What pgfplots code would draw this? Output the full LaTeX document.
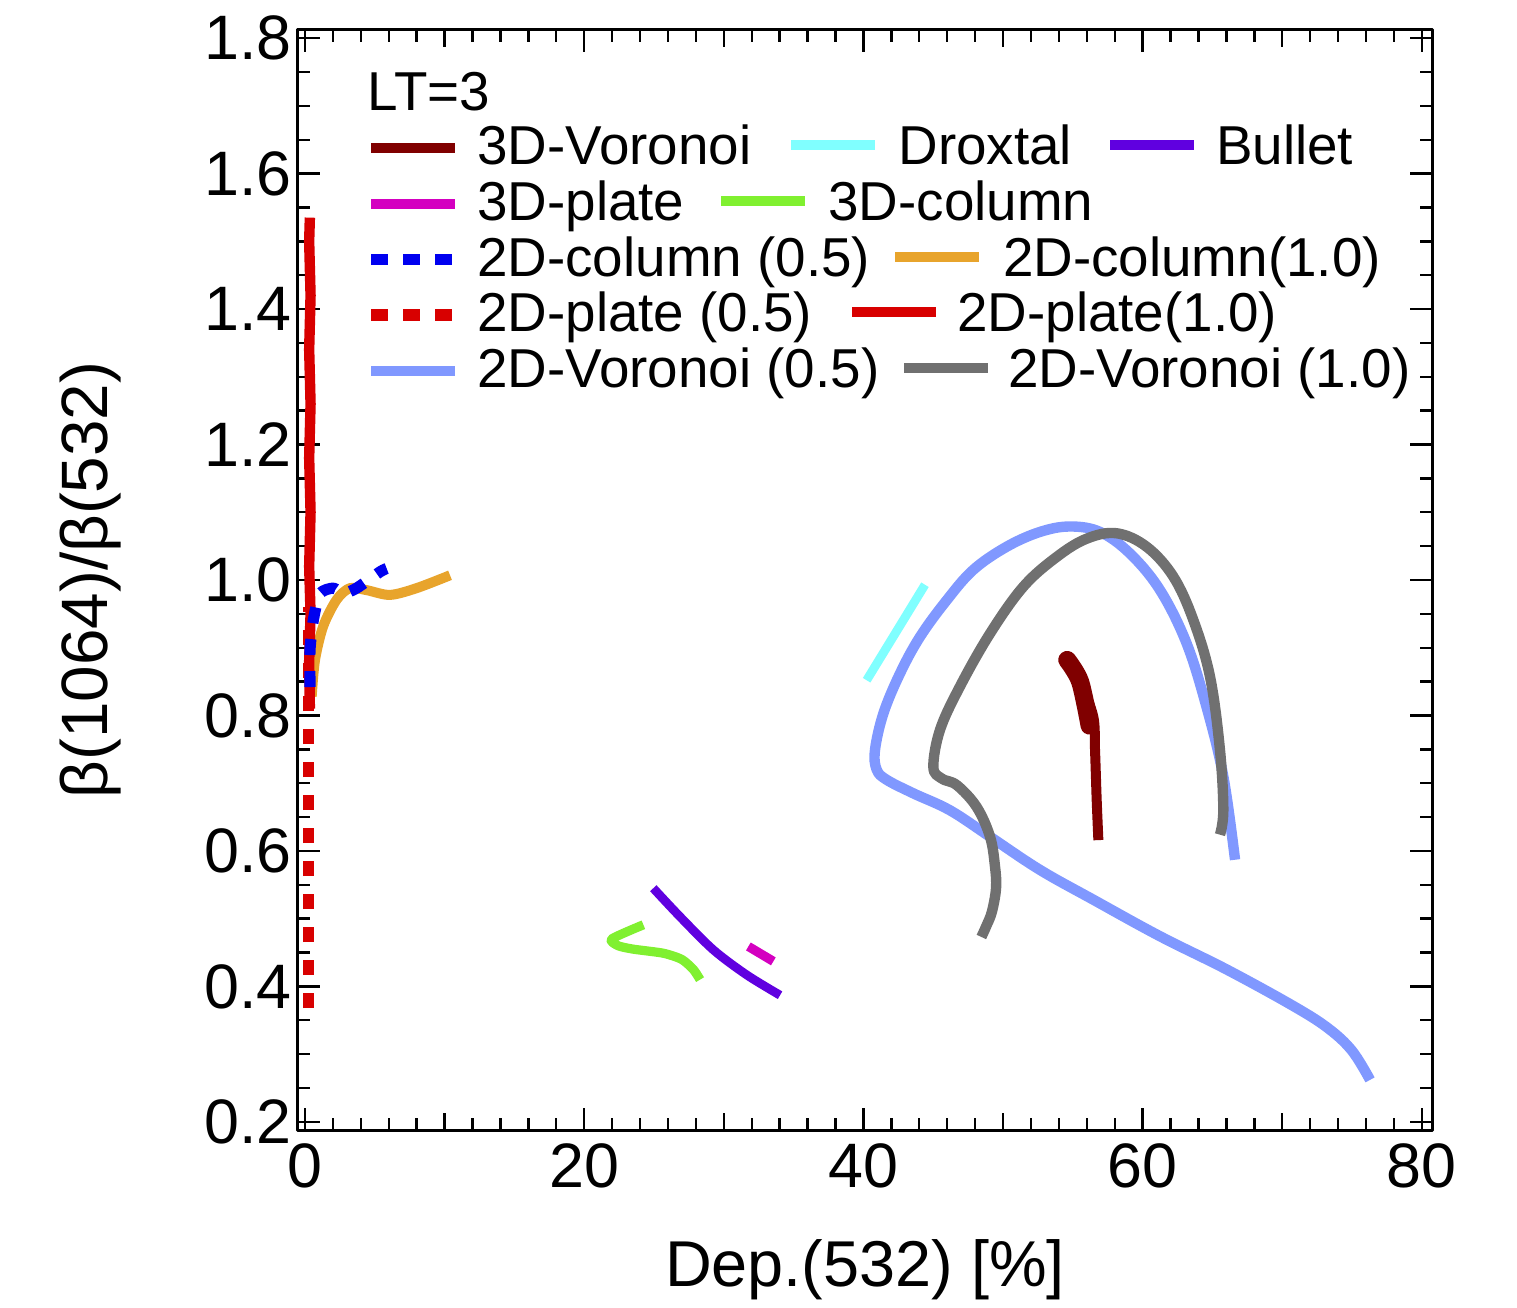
\documentclass[border=0pt]{standalone}
\usepackage{pgfplots}
\pgfplotsset{compat=1.18}
\usepackage{fontspec}
\setmainfont{Liberation Sans}
\definecolor{cvor3}{RGB}{128,0,0}
\definecolor{cdrox}{RGB}{128,255,255}
\definecolor{cbul}{RGB}{96,0,224}
\definecolor{cpl3}{RGB}{212,0,192}
\definecolor{ccol3}{RGB}{128,240,48}
\definecolor{ccol05}{RGB}{0,0,240}
\definecolor{ccol10}{RGB}{232,164,44}
\definecolor{cpl}{RGB}{216,0,0}
\definecolor{cvor05}{RGB}{128,152,255}
\definecolor{cvor10}{RGB}{112,112,112}
\newcommand{\samp}[1]{\textcolor{#1}{\rule[3.6pt]{21pt}{2.5pt}}}
\begin{document}
\begin{tikzpicture}
\begin{axis}[
  scale only axis, width=283.5pt, height=275pt,
  xmin=-0.5, xmax=80.73, ymin=0.188, ymax=1.812,
  axis line style={line width=0.75pt},
  every tick/.style={black, line width=0.6pt},
  tick align=inside,
  major tick length=5.5pt, minor tick length=3pt,
  xtick={0,20,40,60,80}, minor x tick num=9,
  extra x ticks={10,30,50,70}, extra x tick labels={},
  extra x tick style={major tick length=4.25pt},
  ytick={0.2,0.4,0.6,0.8,1.0,1.2,1.4,1.6,1.8}, minor y tick num=3,
  yticklabel style={xshift=1.9pt, /pgf/number format/fixed, /pgf/number format/fixed zerofill, /pgf/number format/precision=1},
  /pgf/number format/assume math mode=true,
  tick label style={font=\fontsize{15.7}{18}\selectfont},
  xlabel={Dep.(532) [\%]},
  ylabel={β(1064)/β(532)},
  xlabel style={at={(axis description cs:0.5,-0.127)}, anchor=center, font=\fontsize{16.2}{19}\selectfont},
  ylabel style={at={(axis description cs:-0.183,0.5)}, anchor=center, font=\fontsize{16.4}{19}\selectfont},
  legend style={at={(axis description cs:0.0597,0.9136)}, anchor=north west, draw=none, fill=none,
    inner sep=0pt, outer sep=0pt, row sep=2.5pt, column sep=0pt,
    nodes={inner sep=0pt, font=\fontsize{13.7}{16}\selectfont},
    /tikz/every odd column/.append style={column sep=4.1pt}},
  legend cell align=left,
  legend image code/.code={\draw[#1] (0pt,0pt) -- (21pt,0pt);},
  line join=round,
]
% 2D-Voronoi (0.5)
\addplot[cvor05, line width=2.6pt, smooth, tension=0.6, forget plot] coordinates {
(66.62,0.587) (65.78,0.71) (64.57,0.813) (63.14,0.907) (61.25,0.985) (59.1,1.039) (56.95,1.071) (54.8,1.079) (52.65,1.071) (50.25,1.049) (47.87,1.015) (45.96,0.970) (44.05,0.916) (42.62,0.862) (41.43,0.803) (40.83,0.749) (40.95,0.72) (41.67,0.705) (43.58,0.685) (46.2,0.66) (49.07,0.621) (52.65,0.572) (56.47,0.528) (61.25,0.474) (66.02,0.425) (70.8,0.371) (73.3,0.338) (75.0,0.305) (76.29,0.262)};
% 2D-Voronoi (1.0)
\addplot[cvor10, line width=2.6pt, smooth, tension=0.6, forget plot] coordinates {
(65.54,0.624) (65.78,0.66) (65.54,0.749) (64.83,0.857) (63.63,0.941) (62.2,1.005) (60.29,1.049) (58.14,1.069) (55.99,1.061) (53.84,1.034) (51.45,0.99) (49.07,0.921) (46.92,0.843) (45.49,0.779) (45.01,0.724) (45.6,0.707) (46.7,0.697) (48.11,0.665) (49.07,0.621) (49.42,0.578) (49.5,0.545) (49.2,0.51) (48.8,0.489) (48.45,0.473)};
% 3D-Voronoi
\addplot[cvor3, line width=2.5pt, smooth, forget plot] coordinates {
(54.56,0.887) (55.52,0.852) (56.47,0.798) (56.59,0.749) (56.71,0.675) (56.83,0.616)};
\addplot[cvor3, line width=4.5pt, line cap=round, smooth, forget plot] coordinates {
(54.6,0.882) (55.52,0.850) (56.2,0.785)};
% Droxtal
\addplot[cdrox, line width=2.2pt, forget plot] coordinates {(40.23,0.852) (44.41,0.993)};
% 3D-column
\addplot[ccol3, line width=2.3pt, smooth, tension=0.4, forget plot] coordinates {
(24.24,0.491) (21.97,0.470) (22.44,0.460) (23.52,0.455) (25.67,0.449) (26.98,0.440) (27.82,0.425) (28.3,0.410)};
% Bullet
\addplot[cbul, line width=2.2pt, smooth, forget plot] coordinates {
(24.95,0.545) (26.86,0.503) (29.25,0.454) (31.64,0.417) (34.03,0.387)};
% 3D-plate
\addplot[cpl3, line width=2.3pt, forget plot] coordinates {(31.76,0.459) (33.55,0.437)};
% 2D-column(1.0)
\addplot[ccol10, line width=2.5pt, smooth, tension=0.5, forget plot] coordinates {
(0.48,0.828) (0.72,0.882) (1.31,0.932) (2.27,0.971) (3.22,0.988) (4.42,0.985) (6.09,0.978) (8.0,0.988) (10.39,1.007)};
% 2D-plate(1.0)
\addplot[cpl, line width=2.6pt, forget plot] coordinates {
(0.35,0.81) (0.30,0.88) (0.40,0.95) (0.30,1.02) (0.40,1.10) (0.30,1.18) (0.40,1.26) (0.30,1.34) (0.40,1.42) (0.30,1.50) (0.35,1.535)};
% 2D-plate (0.5)
\addplot[cpl, line width=2.8pt, dash pattern=on 3.75pt off 4.5pt, forget plot] coordinates {
(0.25,0.368) (0.25,0.96)};
% 2D-column (0.5)
\addplot[ccol05, line width=2.8pt, dash pattern=on 4pt off 4pt, smooth, tension=0.4, forget plot] coordinates {
(0.36,0.842) (0.36,0.897) (0.6,0.941) (1.07,0.98) (2.03,0.988) (2.74,0.98) (3.7,0.988) (5.37,1.012) (5.85,1.017)};
% legend
\addlegendimage{cvor3, line width=2.5pt}
\addlegendentry{3D-Voronoi\hspace{10pt}\samp{cdrox}\hspace{5.75pt}Droxtal\hspace{9.5pt}\samp{cbul}\hspace{5.5pt}Bullet}
\addlegendimage{cpl3, line width=2.5pt}
\addlegendentry{3D-plate\hspace{9.25pt}\samp{ccol3}\hspace{5.75pt}3D-column}
\addlegendimage{ccol05, line width=2.8pt, dash pattern=on 4.25pt off 3.75pt}
\addlegendentry{2D-column (0.5)\hspace{6.25pt}\samp{ccol10}\hspace{6pt}2D-column(1.0)}
\addlegendimage{cpl, line width=2.8pt, dash pattern=on 4.25pt off 3.75pt}
\addlegendentry{2D-plate (0.5)\hspace{10pt}\samp{cpl}\hspace{5.25pt}2D-plate(1.0)}
\addlegendimage{cvor05, line width=2.5pt}
\addlegendentry{2D-Voronoi (0.5)\hspace{6.25pt}\samp{cvor10}\hspace{5pt}2D-Voronoi (1.0)}
\node[anchor=base west, font=\fontsize{13.7}{16}\selectfont, inner sep=0pt] at (rel axis cs:0.0608,0.927) {LT=3};
\end{axis}
\pgfresetboundingbox
\path (-74.5pt,-44.25pt) rectangle (304.75pt,282.5pt);
\end{tikzpicture}
\end{document}
